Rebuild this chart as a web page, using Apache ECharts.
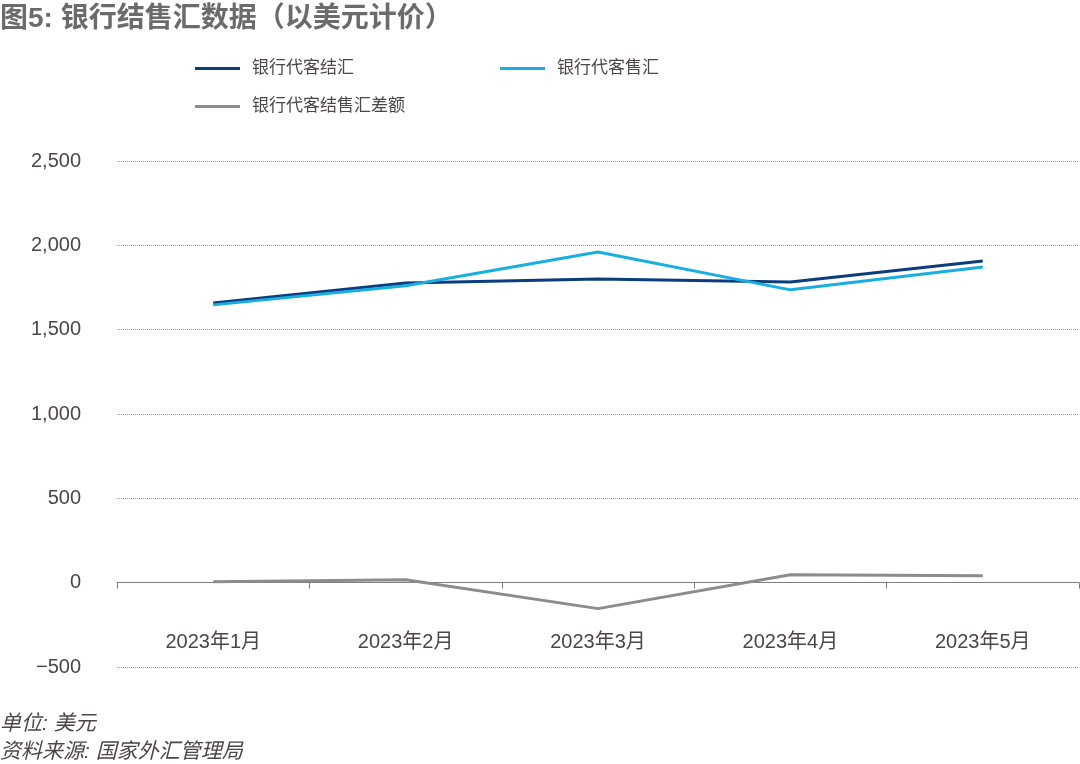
<!DOCTYPE html>
<html><head><meta charset="utf-8">
<script src="https://cdn.jsdelivr.net/npm/echarts@6/dist/echarts.min.js"></script>
<style>html,body{margin:0;padding:0;background:#fff}#c{width:1080px;height:764px}</style>
</head><body><div id="c"></div>
<script>
const categories = ['2023年1月','2023年2月','2023年3月','2023年4月','2023年5月'];
const settle = [1658, 1777, 1801, 1783, 1907];
const sale = [1647, 1760, 1960, 1736, 1872];
const diff = [6, 17, -154, 47, 41];
const yTicks = {min: -500, max: 2500, interval: 500};
const seriesNames = ['银行代客结汇','银行代客售汇','银行代客结售汇差额'];
const colors = ['#0b3d7e','#18afe0','#8c8c8c'];

const FONT = '"Liberation Sans", "Noto Sans CJK SC", sans-serif';
const chart = echarts.init(document.getElementById('c'));
const legendBase = {
  itemWidth: 45, itemHeight: 3, itemGap: 0, itemTextGap: 13, icon: 'rect',
  textStyle: {fontSize: 17, color: '#4d4646', fontFamily: FONT, padding: [0, 0, 0, 7]}
};
chart.setOption({
  animation: false,
  title: [
    {text: '图5: 银行结售汇数据（以美元计价）', left: -5, top: 0,
     textStyle: {fontSize: 28, fontWeight: 'bold', color: '#6b6b6b', fontFamily: FONT}},
    {text: '单位: 美元', left: -5, top: 709,
     textStyle: {fontSize: 21, fontWeight: 'normal', fontStyle: 'italic', color: '#4d4646', fontFamily: FONT}},
    {text: '资料来源: 国家外汇管理局', left: -5, top: 737,
     textStyle: {fontSize: 21, fontWeight: 'normal', fontStyle: 'italic', color: '#4d4646', fontFamily: FONT}}
  ],
  legend: [
    Object.assign({}, legendBase, {data: [seriesNames[0]], left: 190, top: 55}),
    Object.assign({}, legendBase, {data: [seriesNames[1]], left: 495, top: 55}),
    Object.assign({}, legendBase, {data: [seriesNames[2]], left: 190, top: 93})
  ],
  grid: {left: 117, right: 1, top: 161, bottom: 97, containLabel: false},
  xAxis: {
    type: 'category', data: categories, boundaryGap: true,
    axisLine: {onZero: true, lineStyle: {color: '#7f7f7f', width: 1.2}},
    axisTick: {show: true, length: 6, inside: false, lineStyle: {color: '#7f7f7f'}},
    axisLabel: {margin: -35, fontSize: 20, color: '#4d4646', fontFamily: FONT},
    splitLine: {show: false}
  },
  yAxis: {
    type: 'value', min: yTicks.min, max: yTicks.max, interval: yTicks.interval,
    axisLine: {show: false}, axisTick: {show: false},
    axisLabel: {margin: 36, fontSize: 20, color: '#4d4646', fontFamily: FONT,
      formatter: v => v < 0 ? '\u2212' + Math.abs(v).toLocaleString('en-US') : v.toLocaleString('en-US')},
    splitLine: {lineStyle: {color: '#9a9a9a', type: [1, 1], width: 1}}
  },
  series: [
    {name: seriesNames[0], type: 'line', data: settle, showSymbol: false, symbol: 'none',
     lineStyle: {width: 3, color: colors[0]}, itemStyle: {color: colors[0]}},
    {name: seriesNames[1], type: 'line', data: sale, showSymbol: false, symbol: 'none',
     lineStyle: {width: 3, color: colors[1]}, itemStyle: {color: colors[1]}},
    {name: seriesNames[2], type: 'line', data: diff, showSymbol: false, symbol: 'none',
     lineStyle: {width: 3, color: colors[2]}, itemStyle: {color: colors[2]}}
  ]
});
</script></body></html>
